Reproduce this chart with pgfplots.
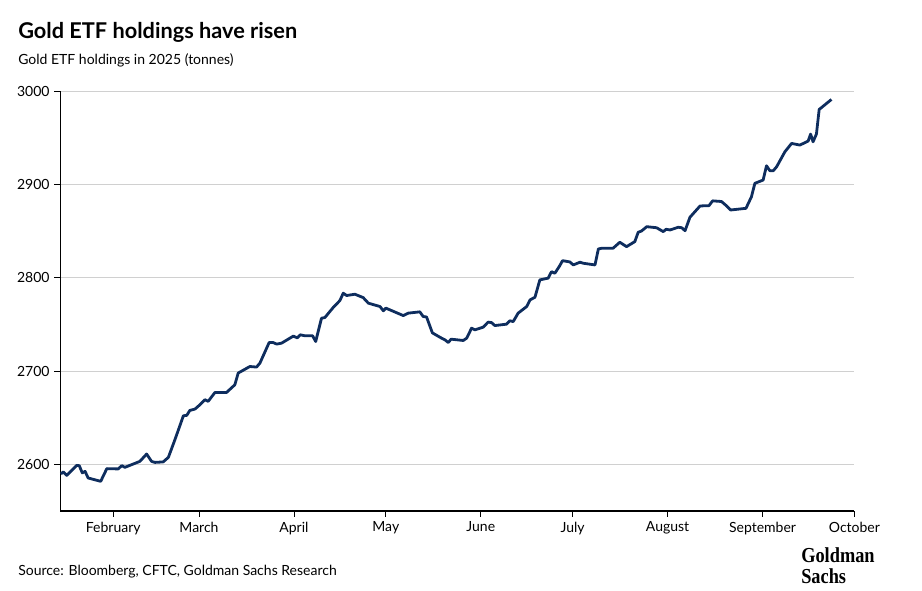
\documentclass[border=0pt]{standalone}
\usepackage{fontspec}
\setmainfont{Lato}
\newfontfamily\gsfont[FakeStretch=0.86]{Liberation Serif}
\usepackage{pgfplots}
\pgfplotsset{compat=1.18}
\definecolor{gsnavy}{HTML}{0E2D5E}
\definecolor{gridgray}{HTML}{D0D0D0}

% day of year, Jan 1 = 0
\pgfplotstableread{
day val
13.9 2589.7
14.7 2591.9
15.8 2588.2
19.1 2598.9
19.9 2598.6
20.9 2590.8
21.8 2592.5
22.8 2585.4
26.9 2581.8
28.9 2595.4
32.6 2595.1
33.8 2598.6
34.8 2596.8
39.7 2603.2
41.9 2611.1
43.5 2603.2
44.6 2602.1
47.3 2602.6
49.0 2607.5
51.2 2627.0
53.9 2652.1
55.0 2652.5
56.0 2657.8
57.7 2659.3
59.3 2663.9
60.9 2669.3
62.0 2667.5
64.2 2677.1
68.0 2677.1
70.7 2685.3
71.8 2697.9
75.6 2704.9
77.8 2704.3
78.9 2708.6
81.9 2730.6
83.2 2730.6
84.4 2728.9
86.0 2730.0
89.8 2737.5
91.1 2735.6
92.1 2738.9
93.6 2737.8
96.1 2737.8
97.1 2731.7
99.0 2756.7
100.1 2757.4
102.8 2768.1
105.0 2775.6
106.1 2783.5
107.2 2781.0
109.9 2782.4
112.6 2778.8
114.3 2772.8
118.1 2769.2
119.2 2764.6
120.0 2767.5
125.7 2759.5
127.3 2762.1
131.1 2763.5
132.2 2758.5
133.3 2758.0
135.2 2741.0
137.7 2736.2
139.3 2733.5
140.4 2730.6
141.3 2734.2
145.3 2732.8
146.4 2735.3
148.0 2746.0
149.1 2744.2
151.8 2747.1
153.4 2752.5
154.5 2752.0
155.6 2748.8
159.4 2750.3
160.5 2753.9
161.6 2753.1
163.2 2762.1
166.0 2769.2
167.1 2776.3
168.7 2779.2
170.3 2797.8
173.0 2799.6
174.1 2806.6
175.2 2804.9
176.8 2813.0
177.7 2818.4
180.1 2817.0
181.2 2813.8
183.4 2816.7
184.5 2815.6
188.3 2813.8
189.4 2830.9
190.5 2831.7
194.2 2831.7
196.4 2838.1
198.6 2833.4
201.3 2838.8
202.4 2848.8
203.5 2850.2
205.2 2854.8
208.4 2853.7
210.6 2849.5
211.5 2852.0
212.8 2851.3
215.5 2854.2
216.6 2853.7
217.7 2850.5
219.3 2864.9
222.6 2877.0
224.7 2877.3
225.5 2877.3
226.7 2882.5
229.6 2881.8
231.3 2877.0
232.6 2872.7
237.6 2874.5
239.4 2887.0
240.5 2901.3
243.2 2904.8
244.3 2920.1
245.4 2914.8
246.5 2914.8
247.6 2919.0
250.3 2935.1
252.5 2944.1
254.1 2943.0
255.2 2942.3
257.9 2946.6
258.7 2954.1
259.5 2945.8
260.6 2954.1
261.5 2980.5
265.5 2991.2
}\etfdata

\begin{document}
\begin{tikzpicture}
\path[use as bounding box] (0,0) rectangle (691.5pt,443.25pt);

\node[anchor=base west, inner sep=0pt, font=\fontsize{16.3}{18}\selectfont\bfseries] at (13.5pt,414pt) {Gold ETF holdings have risen};
\node[anchor=base west, inner sep=0pt, font=\fontsize{10.5}{12}\selectfont] at (13.5pt,394.5pt) {Gold ETF holdings in 2025 (tonnes)};
\node[anchor=base west, inner sep=0pt, font=\fontsize{10.5}{12}\selectfont] at (13.5pt,11.25pt) {Source: Bloomberg, CFTC, Goldman Sachs Research};
% logo
\node[anchor=base west, inner sep=0pt, font=\gsfont\bfseries\fontsize{16}{12}\selectfont] at (600.75pt,21.2pt) {Goldman};
\node[anchor=base west, inner sep=0pt, font=\gsfont\bfseries\fontsize{16}{12}\selectfont] at (600.75pt,5.6pt) {Sachs};

\begin{axis}[
    at={(45.2pt,60pt)}, anchor=south west,
    scale only axis,
    width=595.6pt, height=314.8pt,
    xmin=13.7, xmax=273,
    ymin=2550, ymax=3000,
    axis x line*=bottom, axis y line*=left,
    axis line style={-, black, line width=0.8pt},
    xtick={31,59,90,120,151,181,212,243,273},
    xticklabels={February,March,April,May,June,July,August,September,October},
    ytick={2600,2700,2800,2900,3000},
    tick align=outside,
    major tick length=4.5pt,
    tick style={black, line width=0.6pt},
    ymajorgrids,
    grid style={gridgray, line width=0.7pt},
    ticklabel style={font=\fontsize{10.5}{12}\selectfont},
    /pgf/number format/1000 sep={},
    /pgf/number format/assume math mode=true,
    clip=false,
]
\addplot[gsnavy, line width=2.1pt, mark=none, line join=round] table[x=day, y=val] {\etfdata};
\end{axis}
\end{tikzpicture}
\end{document}
